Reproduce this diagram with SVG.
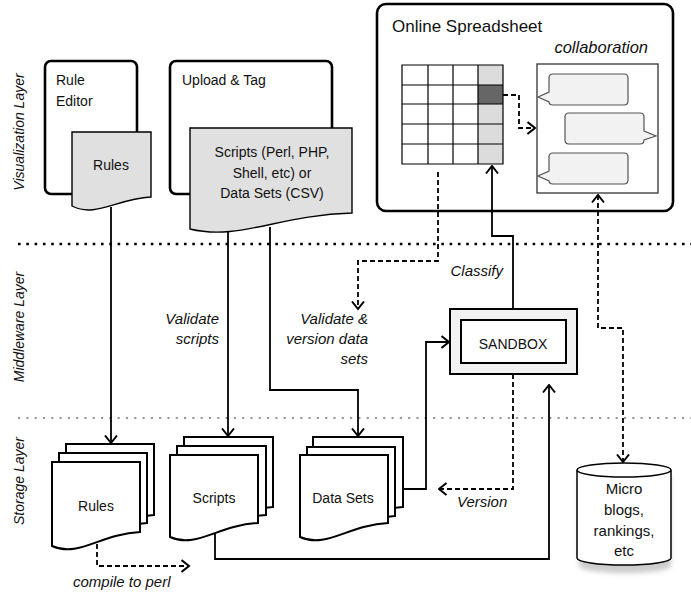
<svg xmlns="http://www.w3.org/2000/svg" width="691" height="596" viewBox="0 0 691 596">
<defs>
<style>
text{font-family:"Liberation Sans",Arial,sans-serif;fill:#111;}
.t14{font-size:14px;}
.t15{font-size:15px;}
.it{font-style:italic;font-size:15px;}
.lay{font-style:italic;font-size:14px;}
.mid{text-anchor:middle;}
.end{text-anchor:end;}
.box{fill:#fff;stroke:#000;stroke-width:2.6;}
.gdoc{fill:#e0e0e0;stroke:#000;stroke-width:1.4;}
.sdoc{fill:#fff;stroke:#000;stroke-width:2;}
.cell{fill:#fff;stroke:#000;stroke-width:1.2;}
.bub{fill:#f2f2f2;stroke:#555;stroke-width:1.2;}
.ln{fill:none;stroke:#000;stroke-width:1.8;}
.dash{fill:none;stroke:#000;stroke-width:1.8;stroke-dasharray:5 3;}
</style>
<marker id="ah" viewBox="0 0 10 14" refX="8.5" refY="7" markerWidth="10" markerHeight="14" markerUnits="userSpaceOnUse" orient="auto">
<path d="M1,1 L8.5,7 L1,13" fill="none" stroke="#000" stroke-width="2"/>
</marker>
<marker id="ahs" viewBox="0 0 10 14" refX="8.5" refY="7" markerWidth="10" markerHeight="14" markerUnits="userSpaceOnUse" orient="auto-start-reverse">
<path d="M1,1 L8.5,7 L1,13" fill="none" stroke="#000" stroke-width="2"/>
</marker>
<filter id="blur" x="-20%" y="-50%" width="140%" height="200%"><feGaussianBlur stdDeviation="2.5"/></filter>
</defs>

<g id="layers">
<line x1="18" y1="244" x2="691" y2="244" stroke="#000" stroke-width="2.6" stroke-dasharray="2.6 5.7"/>
<line x1="18" y1="418" x2="691" y2="418" stroke="#999" stroke-width="2.2" stroke-dasharray="2.2 6.1"/>
<text class="lay mid" transform="translate(24,132) rotate(-90)">Visualization Layer</text>
<text class="lay mid" transform="translate(24,327) rotate(-90)">Middleware Layer</text>
<text class="lay mid" transform="translate(24,481) rotate(-90)">Storage Layer</text>
</g>

<g id="rule-editor">
<rect class="box" x="45" y="61" width="92" height="133" rx="6"/>
<text class="t14" x="56" y="85">Rule</text>
<text class="t14" x="56" y="106">Editor</text>
</g>
<g id="rules-doc">
<path class="gdoc" d="M72,132 H151 V197 C115.5,199 95.7,218 72,206 Z"/>
<text class="t14 mid" x="111" y="170">Rules</text>
</g>

<g id="upload-tag">
<rect class="box" x="170" y="61" width="162" height="133" rx="6"/>
<text class="t14" x="182" y="85">Upload &amp; Tag</text>
</g>
<g id="scripts-doc">
<path class="gdoc" d="M190,128 H352 V213 C279,215 238.6,241 190,229 Z"/>
<text class="t14 mid" x="272" y="157">Scripts (Perl, PHP,</text>
<text class="t14 mid" x="272" y="178">Shell, etc) or</text>
<text class="t14 mid" x="272" y="198">Data Sets (CSV)</text>
</g>

<g id="online-spreadsheet">
<rect class="box" x="377" y="4" width="296" height="207" rx="9"/>
<text x="392" y="32" style="font-size:17px">Online Spreadsheet</text>
<text class="it" x="648" y="53" text-anchor="end" style="font-size:16.5px">collaboration</text>
</g>
<g id="grid">
<rect x="478" y="65" width="25" height="99" fill="#dcdcdc"/>
<rect x="478" y="85" width="25" height="19" fill="#666"/>
<path class="cell" style="fill:none" d="M402,65 H503 V164 H402 Z M428,65 V164 M453,65 V164 M478,65 V164 M402,85 H503 M402,104 H503 M402,124 H503 M402,144 H503"/>
</g>
<g id="collaboration">
<rect x="537" y="64" width="121" height="129" fill="#fff" stroke="#333" stroke-width="1.3"/>
<path class="bub" d="M553,74 H624 Q628,74 628,78 V101 Q628,105 624,105 H553 Q549,105 549,102 L538,97 L549,92 V78 Q549,74 553,74 Z"/>
<path class="bub" d="M569,113 H640 Q644,113 644,117 V131 L656,136 L644,140 V140 Q644,144 640,144 H569 Q565,144 565,140 V117 Q565,113 569,113 Z"/>
<path class="bub" d="M553,153 H624 Q628,153 628,157 V180 Q628,184 624,184 H553 Q549,184 549,181 L538,176 L549,171 V157 Q549,153 553,153 Z"/>
</g>

<g id="sandbox">
<rect x="450" y="309" width="127" height="65" fill="#f2f2f2" stroke="#000" stroke-width="2"/>
<rect x="461" y="320" width="105" height="43" fill="#fff" stroke="#000" stroke-width="2"/>
<text class="t14 mid" x="513" y="349">SANDBOX</text>
</g>

<g id="rules-store">
<path class="sdoc" d="M66,444 H154 V515 C114.4,517 92.4,542 66,530 Z"/>
<path class="sdoc" d="M59,453 H147 V523 C107.4,525 85.4,550 59,538 Z"/>
<path class="sdoc" d="M52,462 H140 V532 C100.4,534 78.4,558 52,546 Z"/>
<text class="t14 mid" x="96" y="511">Rules</text>
</g>
<g id="scripts-store">
<path class="sdoc" d="M184,437 H273 V507 C233,509 210.7,534 184,522 Z"/>
<path class="sdoc" d="M177,446 H266 V515 C226,517 203.7,542 177,530 Z"/>
<path class="sdoc" d="M170,455 H258 V523 C218.4,525 196.4,549 170,537 Z"/>
<text class="t14 mid" x="214" y="503">Scripts</text>
</g>
<g id="datasets-store">
<path class="sdoc" d="M313,437 H403 V507 C362.5,509 340,534 313,522 Z"/>
<path class="sdoc" d="M307,447 H395 V516 C355.4,518 333.4,543 307,531 Z"/>
<path class="sdoc" d="M300,455 H388 V523 C348.4,525 326.4,549 300,537 Z"/>
<text class="t14 mid" x="343" y="503">Data Sets</text>
</g>

<g id="microblogs">
<path d="M579,472 V562 A46,7 0 0 0 671,562 V472" fill="#999" opacity="0.5" filter="url(#blur)" transform="translate(0,4)"/>
<path d="M577,470 V558 A47,7 0 0 0 671,558 V470" fill="#fff" stroke="#000" stroke-width="1.5"/>
<ellipse cx="624" cy="470" rx="47" ry="7" fill="#fff" stroke="#000" stroke-width="1.5"/>
<text class="t15 mid" x="624" y="494">Micro</text>
<text class="t15 mid" x="624" y="515">blogs,</text>
<text class="t15 mid" x="624" y="536">rankings,</text>
<text class="t15 mid" x="624" y="556">etc</text>
</g>

<g id="connectors">
<path class="ln" d="M111,207 V443" marker-end="url(#ah)"/>
<path class="ln" d="M228,232 V436" marker-end="url(#ah)"/>
<path class="ln" d="M270,227 V390 H358 V436" marker-end="url(#ah)"/>
<path class="ln" d="M513,309 V236 H492 V166" marker-end="url(#ah)"/>
<path class="ln" d="M403,489 H426 V342 H449" marker-end="url(#ah)"/>
<path class="ln" d="M215,534 V559 H549 V385" marker-end="url(#ah)"/>
<path class="dash" d="M503,95 H519 V128 H535" marker-end="url(#ah)"/>
<path class="dash" d="M438,172 V261 H358 V309" marker-end="url(#ah)"/>
<path class="dash" d="M598,195 V328 H623 V462" marker-start="url(#ahs)" marker-end="url(#ah)"/>
<path class="dash" d="M513,374 V489 H439" marker-end="url(#ah)"/>
<path class="dash" d="M97,544 V566 H189" marker-end="url(#ah)"/>
<text class="it end" x="219" y="324">Validate</text>
<text class="it end" x="219" y="344">scripts</text>
<text class="it end" x="368" y="324">Validate &amp;</text>
<text class="it end" x="368" y="344">version data</text>
<text class="it end" x="368" y="364">sets</text>
<text class="it end" x="503" y="276">Classify</text>
<text class="it" x="457" y="507">Version</text>
<text class="it" x="73" y="587">compile to perl</text>
</g>
</svg>
